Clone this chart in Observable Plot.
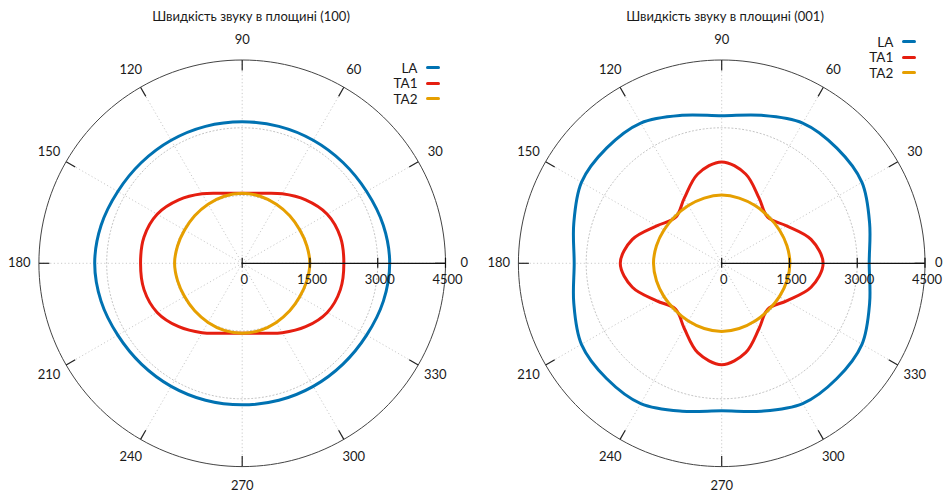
<!DOCTYPE html>
<html>
<head>
<meta charset="utf-8">
<script src="https://cdn.jsdelivr.net/npm/d3@7"></script>
<script src="https://cdn.jsdelivr.net/npm/@observablehq/plot@0.6"></script>
<style>
  body { margin: 0; background: #fff; }
  #wrap { position: relative; width: 944px; height: 497px; overflow: hidden; font-family: Lato, "Open Sans", sans-serif; color: #1a1a1a; }
  .panel { position: absolute; top: 0; width: 472px; height: 497px; }
  .panel svg { overflow: visible; }
  .title { position: absolute; font-size: 13px; line-height: 16px; white-space: nowrap; transform: translate(-50%, -50%); }
  .lg { position: absolute; font-size: 13.5px; line-height: 16px; white-space: nowrap; }
  .lg span.t { position: absolute; right: 0; transform: translateY(-50%); }
</style>
</head>
<body>
<div id="wrap"></div>
<script>
// ---------- data ----------
const titles = ["Швидкість звуку в площині (100)", "Швидкість звуку в площині (001)"];
const series = ["LA", "TA1", "TA2"];
const colors = ["#0072b2", "#e51e10", "#e69f00"];
const angles = [0, 15, 30, 45, 60, 75, 90, 105, 120, 135, 150, 165, 180, 195, 210, 225, 240, 255, 270, 285, 300, 315, 330, 345];

// plane (100)
const LA_100  = [3265,3235,3180,3155,3145,3138,3133,3138,3145,3155,3180,3235,3265,3235,3180,3155,3145,3138,3133,3138,3145,3155,3180,3235];
const TA1_100 = [2250,2250,2174,1986,1776,1603,1548,1603,1776,1986,2174,2250,2250,2250,2174,1986,1776,1603,1548,1603,1776,1986,2174,2250];
const TA2_100 = [1497,1482,1473,1488,1510,1537,1548,1537,1510,1488,1473,1482,1497,1482,1473,1488,1510,1537,1548,1537,1510,1488,1473,1482];

// plane (001)
const LA_001  = [3265,3390,3585,3605,3585,3390,3265,3390,3585,3605,3585,3390,3265,3390,3585,3605,3585,3390,3265,3390,3585,3605,3585,3390];
const TA1_001 = [2245,2047,1660,1440,1660,2047,2245,2047,1660,1440,1660,2047,2245,2047,1660,1440,1660,2047,2245,2047,1660,1440,1660,2047];
const TA2_001 = [1510,1495,1475,1463,1475,1495,1510,1495,1475,1463,1475,1495,1510,1495,1475,1463,1475,1495,1510,1495,1475,1463,1475,1495];

const angleTicks = [0, 30, 60, 90, 120, 150, 180, 210, 240, 270, 300, 330];
const radialTicks = [0, 1500, 3000, 4500];
const gridRadii = [1500, 3000];
const rMax = 4500;

// ---------- helpers ----------
const rad = a => a * Math.PI / 180;
const px = (r, a) => r * Math.cos(rad(a));
const py = (r, a) => r * Math.sin(rad(a));

function buildRows(list) {
  const rows = [];
  list.forEach((vals, i) => {
    vals.forEach((v, j) => rows.push({series: series[i], angle: angles[j], v, x: px(v, angles[j]), y: py(v, angles[j])}));
  });
  return rows;
}

const circleAngles = d3.range(0, 360, 2);
function circleRows(radii) {
  const rows = [];
  radii.forEach(r => circleAngles.forEach(a => rows.push({r, x: px(r, a), y: py(r, a)})));
  return rows;
}

function polarPlot(rows, cfg) {
  const unitsPerPx = rMax / cfg.radiusPx;
  const tickLen = 10.5 * unitsPerPx;
  const rTick = 5 * unitsPerPx;
  const labelR = 223 * unitsPerPx;
  return Plot.plot({
    width: 472,
    height: 497,
    marginLeft: cfg.cx - cfg.radiusPx,
    marginRight: 472 - cfg.cx - cfg.radiusPx,
    marginTop: cfg.cy - cfg.radiusPx,
    marginBottom: 497 - cfg.cy - cfg.radiusPx,
    x: {domain: [-rMax, rMax], axis: null},
    y: {domain: [-rMax, rMax], axis: null},
    color: {domain: series, range: colors},
    style: {fontFamily: "Lato, 'Open Sans', sans-serif", fontSize: "13px", color: "#1a1a1a", background: "transparent"},
    marks: [
      // dotted grid circles
      Plot.line(circleRows(gridRadii), {x: "x", y: "y", z: "r", curve: "linear-closed", stroke: "#bdbdbd", strokeWidth: 0.9, strokeDasharray: "1.2,2.4"}),
      // dotted spokes
      Plot.link(angleTicks, {x1: 0, y1: 0, x2: a => px(rMax, a), y2: a => py(rMax, a), stroke: "#c4c4c4", strokeWidth: 0.9, strokeDasharray: "1.2,2.4"}),
      // data curves
      Plot.line(rows, {x: "x", y: "y", z: "series", stroke: "series", strokeWidth: 3, curve: "catmull-rom-closed", strokeLinejoin: "round"}),
      // outer circle
      Plot.line(circleRows([rMax]), {x: "x", y: "y", curve: "linear-closed", stroke: "#444", strokeWidth: 1}),
      // angular ticks
      Plot.link(angleTicks, {x1: a => px(rMax, a), y1: a => py(rMax, a), x2: a => px(rMax - tickLen, a), y2: a => py(rMax - tickLen, a), stroke: "#222", strokeWidth: 1.2}),
      // angular labels (the 0 label is nudged inward when it would leave the page)
      Plot.text(angleTicks.filter(a => a !== 0), {x: a => px(labelR, a), y: a => py(labelR, a), text: a => String(a), fontSize: 13, fill: "#1a1a1a"}),
      Plot.text([0], {x: a => px(labelR, a), y: a => py(labelR, a), dx: cfg.zeroDx, text: a => String(a), fontSize: 13, fill: "#1a1a1a"}),
      // radial axis
      Plot.ruleY([0], {x1: 0, x2: rMax, stroke: "#111", strokeWidth: 1.2}),
      Plot.ruleX(radialTicks, {y1: -rTick, y2: rTick, stroke: "#111", strokeWidth: 1.2}),
      Plot.text(radialTicks, {x: d => d, y: 0, dy: 16.5, dx: 2, text: d => String(d), fontSize: 13, fill: "#1a1a1a"})
    ]
  });
}

// ---------- layout ----------
const wrap = document.getElementById("wrap");
const panels = [
  {left: 0, cx: 241.7, cy: 262.8, radiusPx: 203.3, zeroDx: -1, data: [LA_100, TA1_100, TA2_100], titleX: 251, titleY: 16,
   legendRight: 417.5, legendLine: [425.5, 439.5], legendY: [67.7, 83.0, 98.7]},
  {left: 472, cx: 721.2 - 472, cy: 262.8, radiusPx: 203.3, zeroDx: -6, data: [LA_001, TA1_001, TA2_001], titleX: 725, titleY: 16,
   legendRight: 893.3, legendLine: [901.5, 915.5], legendY: [41.7, 57.2, 72.5]}
];

panels.forEach((p, k) => {
  const div = document.createElement("div");
  div.className = "panel";
  div.style.left = p.left + "px";
  div.appendChild(polarPlot(buildRows(p.data), p));
  wrap.appendChild(div);

  const t = document.createElement("div");
  t.className = "title";
  t.style.left = p.titleX + "px";
  t.style.top = p.titleY + "px";
  t.textContent = titles[k];
  wrap.appendChild(t);

  series.forEach((s, i) => {
    const row = document.createElement("div");
    row.className = "lg";
    row.style.left = "0px";
    row.style.top = p.legendY[i] + "px";
    row.style.width = p.legendRight + "px";
    const txt = document.createElement("span");
    txt.className = "t";
    txt.textContent = s;
    row.appendChild(txt);
    wrap.appendChild(row);
    const ln = document.createElement("span");
    ln.className = "lg";
    ln.style.left = p.legendLine[0] + "px";
    ln.style.top = (p.legendY[i] - 1.5) + "px";
    ln.style.width = (p.legendLine[1] - p.legendLine[0]) + "px";
    ln.style.height = "3px";
    ln.style.borderRadius = "2px";
    ln.style.background = colors[i];
    wrap.appendChild(ln);
  });
});
</script>
</body>
</html>
